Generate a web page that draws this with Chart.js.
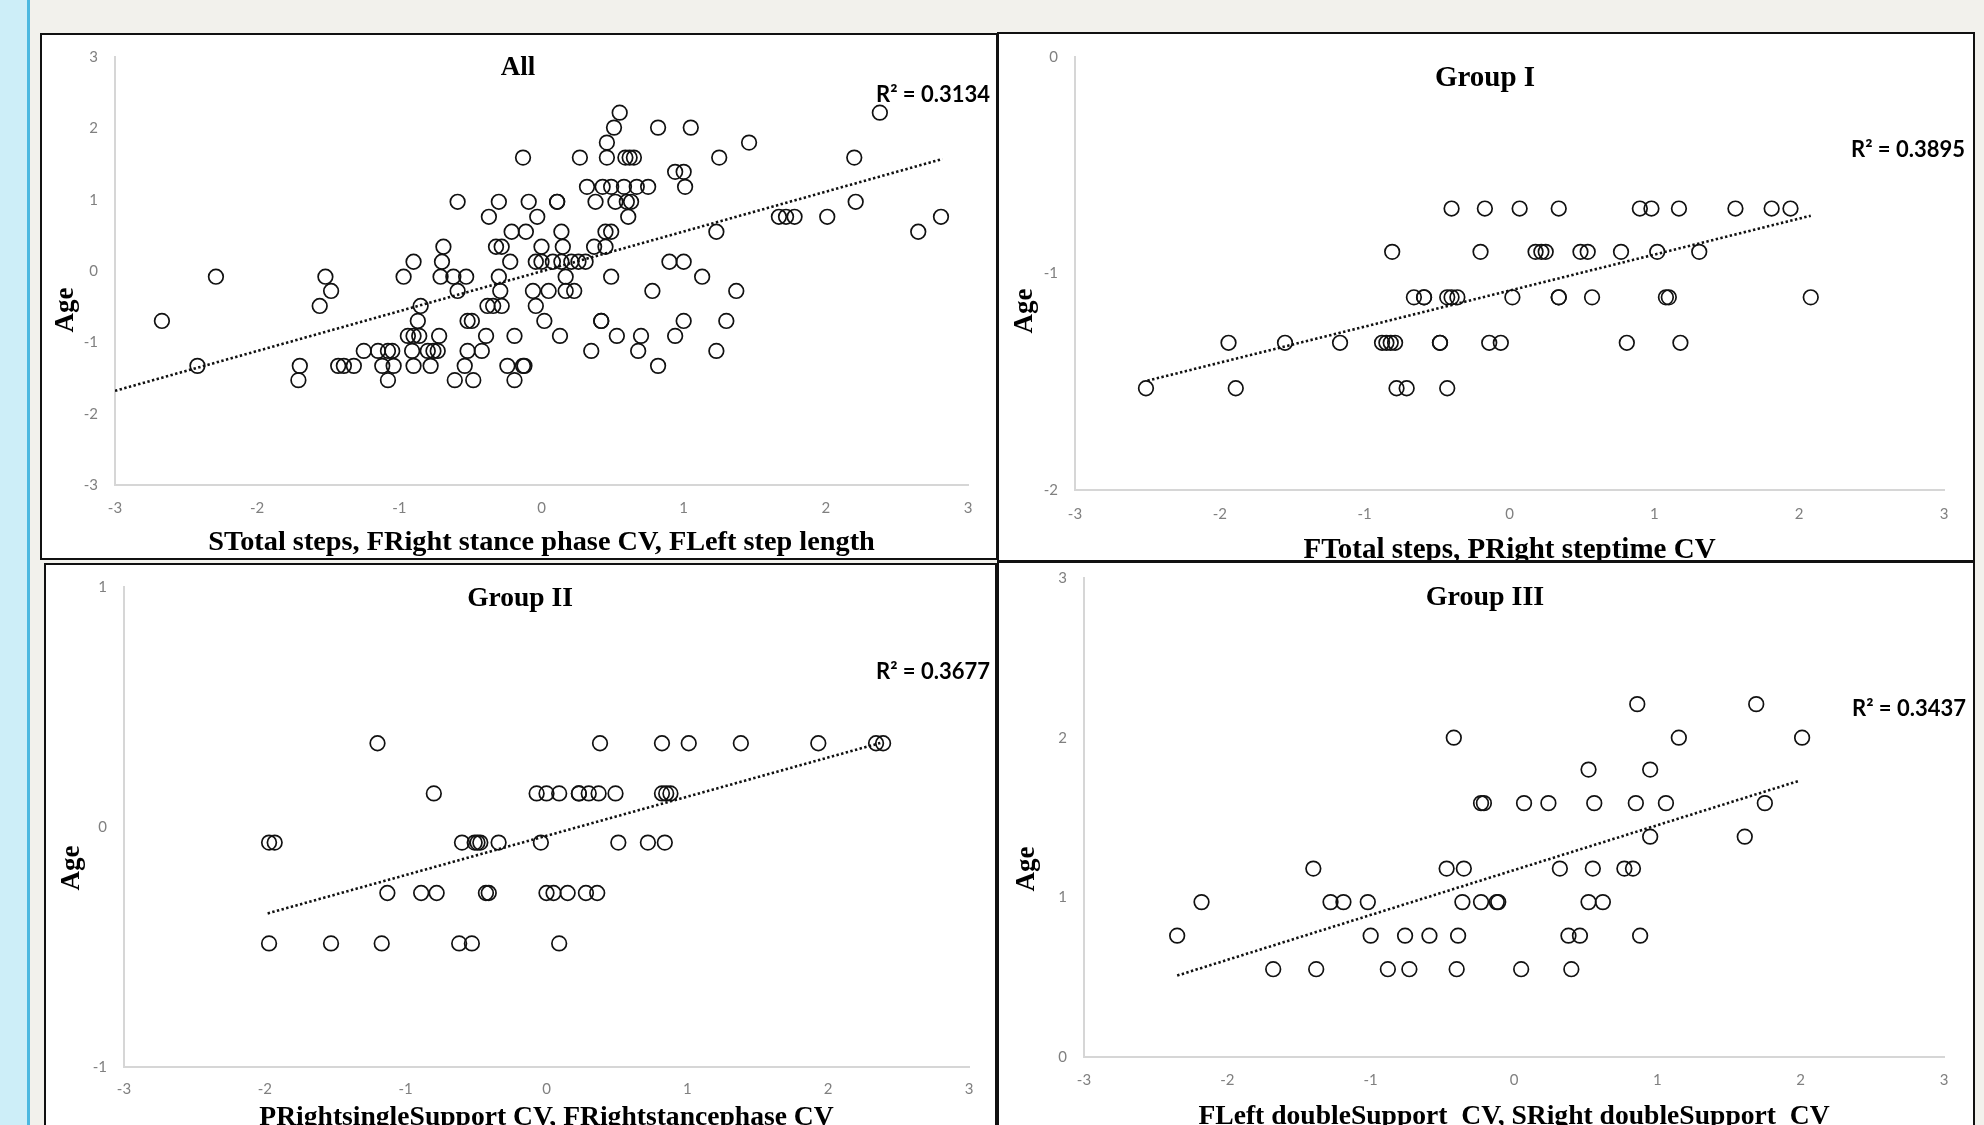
<!DOCTYPE html>
<html>
<head>
<meta charset="utf-8">
<script src="https://cdn.jsdelivr.net/npm/chart.js@4.4.1/dist/chart.umd.min.js"></script>
<style>
  html, body { margin: 0; padding: 0; }
  body { width: 1984px; height: 1125px; background: #f2f1ec; position: relative; overflow: hidden; }
  .strip { position: absolute; left: 0; top: 0; width: 27px; height: 1125px; background: #cdeef8; }
  .stripLine { position: absolute; left: 27px; top: 0; width: 3px; height: 1125px; background: #4cb8e0; }
  .panel { position: absolute; box-sizing: border-box; border: 2px solid #111; background: #fff; overflow: hidden; }
  .panel canvas { position: absolute; left: 0; top: 0; }
</style>
</head>
<body>
<div class="strip"></div>
<div class="stripLine"></div>
<div class="panel" style="left:40px; top:33px; width:958px; height:527px;"><canvas id="c1" width="954" height="523"></canvas></div>
<div class="panel" style="left:997px; top:32px; width:978px; height:530px;"><canvas id="c2" width="974" height="526"></canvas></div>
<div class="panel" style="left:44px; top:563px; width:953px; height:600px;"><canvas id="c3" width="949" height="580"></canvas></div>
<div class="panel" style="left:997px; top:561px; width:978px; height:600px;"><canvas id="c4" width="974" height="580"></canvas></div>
<script>
// ---------------- DATA ----------------
// Panel "All"
const allTitle = 'All';
const allXTitle = 'STotal steps, FRight stance phase CV, FLeft step length';
const allR2 = 'R\u00B2 = 0.3134';
const allYRange = [-3, 3];
const allLevels = [2.22, 2.01, 1.80, 1.59, 1.39, 1.18, 0.97, 0.76, 0.55, 0.34, 0.13, -0.08, -0.28, -0.49, -0.70, -0.91, -1.12, -1.33, -1.53];
const allX = [
  [0.55, 2.38],
  [0.51, 0.82, 1.05],
  [0.46, 1.46],
  [-0.13, 0.27, 0.46, 0.59, 0.62, 0.65, 1.25, 2.20],
  [0.94, 1.00],
  [0.32, 0.43, 0.49, 0.58, 0.67, 0.75, 1.01],
  [-0.59, -0.30, -0.09, 0.11, 0.11, 0.38, 0.52, 0.60, 0.63, 2.21],
  [-0.37, -0.03, 0.61, 1.67, 1.72, 1.78, 2.01, 2.81],
  [-0.21, -0.11, 0.14, 0.45, 0.49, 1.23, 2.65],
  [-0.69, -0.32, -0.28, 0.00, 0.15, 0.37, 0.45],
  [-0.90, -0.70, -0.22, -0.04, 0.00, 0.08, 0.14, 0.21, 0.26, 0.31, 0.90, 1.00],
  [-2.29, -1.52, -0.97, -0.71, -0.62, -0.53, -0.30, 0.17, 0.49, 1.13],
  [-1.48, -0.59, -0.29, -0.06, 0.05, 0.17, 0.23, 0.78, 1.37],
  [-1.56, -0.85, -0.38, -0.34, -0.28, -0.04],
  [-2.67, -0.87, -0.52, -0.49, 0.02, 0.42, 0.42, 1.00, 1.30],
  [-0.94, -0.90, -0.86, -0.72, -0.39, -0.19, 0.13, 0.53, 0.70, 0.94],
  [-1.25, -1.15, -1.08, -1.05, -0.91, -0.80, -0.76, -0.73, -0.52, -0.42, 0.35, 0.68, 1.23],
  [-2.42, -1.70, -1.43, -1.39, -1.32, -1.12, -1.04, -0.90, -0.78, -0.54, -0.24, -0.13, -0.12, 0.82],
  [-1.71, -1.08, -0.61, -0.48, -0.19]
];
const allTrendX = [-3.00, 2.82];
const allTrendY = [-1.68, 1.57];

// Panel "Group I"
const g1Title = 'Group I';
const g1XTitle = 'FTotal steps, PRight steptime CV';
const g1R2 = 'R\u00B2 = 0.3895';
const g1YRange = [-2, 0];
const g1Levels = [-0.70, -0.90, -1.11, -1.32, -1.53];
const g1X = [
  [-0.40, -0.17, 0.07, 0.34, 0.90, 0.98, 1.17, 1.56, 1.81, 1.94],
  [-0.81, -0.20, 0.18, 0.22, 0.25, 0.49, 0.54, 0.77, 1.02, 1.31],
  [-0.66, -0.59, -0.59, -0.43, -0.40, -0.36, 0.02, 0.34, 0.34, 0.57, 1.08, 1.10, 2.08],
  [-1.94, -1.55, -1.17, -0.88, -0.85, -0.82, -0.79, -0.48, -0.48, -0.14, -0.06, 0.81, 1.18],
  [-2.51, -1.89, -0.78, -0.71, -0.43]
];
const g1TrendX = [-2.50, 2.08];
const g1TrendY = [-1.495, -0.733];

// Panel "Group II"
const g2Title = 'Group II';
const g2XTitle = 'PRightsingleSupport CV, FRightstancephase CV';
const g2R2 = 'R\u00B2 = 0.3677';
const g2YRange = [-1, 1];
const g2Levels = [0.349, 0.14, -0.065, -0.275, -0.485];
const g2X = [
  [-1.20, 0.38, 0.82, 1.01, 1.38, 1.93, 2.34, 2.39],
  [-0.80, -0.07, 0.00, 0.09, 0.23, 0.23, 0.30, 0.37, 0.49, 0.82, 0.85, 0.88],
  [-1.97, -1.93, -0.60, -0.51, -0.49, -0.47, -0.34, -0.04, 0.51, 0.72, 0.84],
  [-1.13, -0.89, -0.78, -0.43, -0.41, 0.00, 0.05, 0.15, 0.28, 0.36],
  [-1.97, -1.53, -1.17, -0.62, -0.53, 0.09]
];
const g2TrendX = [-1.98, 2.37];
const g2TrendY = [-0.36, 0.35];

// Panel "Group III"
const g3Title = 'Group III';
const g3XTitle = 'FLeft doubleSupport  CV, SRight doubleSupport  CV';
const g3R2 = 'R\u00B2 = 0.3437';
const g3YRange = [0, 3];
const g3Levels = [2.21, 2.00, 1.80, 1.59, 1.38, 1.18, 0.97, 0.76, 0.55];
const g3X = [
  [0.86, 1.69],
  [-0.42, 1.15, 2.01],
  [0.52, 0.95],
  [-0.23, -0.21, 0.07, 0.24, 0.56, 0.85, 1.06, 1.75],
  [0.95, 1.61],
  [-1.40, -0.47, -0.35, 0.32, 0.55, 0.77, 0.83],
  [-2.18, -1.28, -1.19, -1.02, -0.36, -0.23, -0.12, -0.11, 0.52, 0.62],
  [-2.35, -1.00, -0.76, -0.59, -0.39, 0.38, 0.46, 0.88],
  [-1.68, -1.38, -0.88, -0.73, -0.40, 0.05, 0.40]
];
const g3TrendX = [-2.35, 1.99];
const g3TrendY = [0.51, 1.73];

const xRange = [-3, 3];
const yTitle = 'Age';

// ---------------- DRAWING ----------------
function buildPoints(levels, xs) {
  const pts = [];
  levels.forEach((y, i) => xs[i].forEach(x => pts.push({ x: x, y: y })));
  return pts;
}
function buildLine(xs, ys) { return xs.map((x, i) => ({ x: x, y: ys[i] })); }

const SERIF = '"Liberation Serif", "Times New Roman", serif';

const panelLabels = {
  id: 'panelLabels',
  afterDatasetsDraw(chart, args, o) {
    const ctx = chart.ctx;
    ctx.save();
    ctx.fillStyle = '#000';
    ctx.textBaseline = 'middle';
    ctx.textAlign = 'center';
    ctx.font = 'bold ' + o.titleSize + 'px ' + SERIF;
    ctx.fillText(o.title, o.titleX, o.titleY);
    ctx.textAlign = 'right';
    ctx.font = 'bold 22px Lato, "Open Sans", sans-serif';
    ctx.fillText(o.r2, o.r2X, o.r2Y);
    ctx.translate(o.ageX, o.ageY);
    ctx.rotate(-Math.PI / 2);
    ctx.textAlign = 'center';
    ctx.font = 'bold 27px ' + SERIF;
    ctx.fillText(o.age, 0, 0);
    ctx.restore();
  }
};

function makeChart(p) {
  const ctx = document.getElementById(p.id);
  return new Chart(ctx, {
    type: 'scatter',
    data: {
      datasets: [
        {
          data: buildPoints(p.levels, p.xs),
          pointStyle: 'circle',
          pointRadius: 7.3,
          pointHoverRadius: 7.3,
          borderWidth: 1.7,
          borderColor: '#111',
          backgroundColor: 'rgba(0,0,0,0)',
          showLine: false
        },
        {
          data: buildLine(p.trendX, p.trendY),
          showLine: true,
          borderColor: '#111',
          borderWidth: 2.6,
          borderDash: [2.4, 2.4],
          pointRadius: 0,
          fill: false
        }
      ]
    },
    options: {
      responsive: false,
      animation: false,
      devicePixelRatio: 1,
      layout: { autoPadding: false, padding: { left: 0, top: p.padTop, right: p.padRight, bottom: 0 } },
      plugins: {
        legend: { display: false },
        tooltip: { enabled: false },
        panelLabels: {
          title: p.title, titleSize: p.titleSize, titleX: p.titleX, titleY: p.titleY,
          r2: p.r2, r2X: p.r2X, r2Y: p.r2Y,
          age: yTitle, ageX: p.ageX, ageY: p.ageY
        }
      },
      scales: {
        x: {
          type: 'linear',
          min: xRange[0], max: xRange[1],
          grid: { display: false, drawTicks: false },
          border: { display: true, color: '#d6d6d6', width: 2 },
          ticks: { stepSize: 1, padding: p.xTickPad, color: '#808080', font: { family: 'Lato', size: 15 } },
          title: {
            display: true, text: p.xTitle, color: '#000',
            font: { family: SERIF, size: p.xTitleSize, weight: 'bold', lineHeight: 1 },
            padding: { top: 0, bottom: p.xTitlePad }
          },
          afterFit: s => { s.height = p.xHeight; s.paddingLeft = 0; s.paddingRight = 0; }
        },
        y: {
          type: 'linear',
          min: p.yRange[0], max: p.yRange[1],
          grid: { display: false, drawTicks: false },
          border: { display: true, color: '#d6d6d6', width: 2 },
          ticks: { stepSize: 1, padding: 17, color: '#808080', font: { family: 'Lato', size: 15 } },
          afterFit: s => { s.width = p.yWidth; s.paddingTop = 0; s.paddingBottom = 0; }
        }
      }
    },
    plugins: [panelLabels]
  });
}

makeChart({
  id: 'c1', levels: allLevels, xs: allX, trendX: allTrendX, trendY: allTrendY, yRange: allYRange,
  padTop: 22, padRight: 28, yWidth: 73, xHeight: 73, xTickPad: 14,
  xTitle: allXTitle, xTitleSize: 28.3, xTitlePad: 1,
  title: allTitle, titleSize: 27, titleX: 476, titleY: 33, r2: allR2, r2X: 948, r2Y: 60, ageX: 24, ageY: 275
});
makeChart({
  id: 'c2', levels: g1Levels, xs: g1X, trendX: g1TrendX, trendY: g1TrendY, yRange: g1YRange,
  padTop: 23, padRight: 29, yWidth: 76, xHeight: 70, xTickPad: 15,
  xTitle: g1XTitle, xTitleSize: 29, xTitlePad: -5.5,
  title: g1Title, titleSize: 29, titleX: 486, titleY: 45, r2: g1R2, r2X: 966, r2Y: 116, ageX: 26, ageY: 277
});
makeChart({
  id: 'c3', levels: g2Levels, xs: g2X, trendX: g2TrendX, trendY: g2TrendY, yRange: g2YRange,
  padTop: 22, padRight: 26, yWidth: 78, xHeight: 78, xTickPad: 13,
  xTitle: g2XTitle, xTitleSize: 27.6, xTitlePad: 13.5,
  title: g2Title, titleSize: 27.5, titleX: 474, titleY: 33.5, r2: g2R2, r2X: 944, r2Y: 106.5, ageX: 26, ageY: 303
});
makeChart({
  id: 'c4', levels: g3Levels, xs: g3X, trendX: g3TrendX, trendY: g3TrendY, yRange: g3YRange,
  padTop: 15, padRight: 29, yWidth: 85, xHeight: 86, xTickPad: 14,
  xTitle: g3XTitle, xTitleSize: 27.6, xTitlePad: 12,
  title: g3Title, titleSize: 28, titleX: 486, titleY: 34.5, r2: g3R2, r2X: 967, r2Y: 146, ageX: 28, ageY: 306
});
</script>
</body>
</html>
